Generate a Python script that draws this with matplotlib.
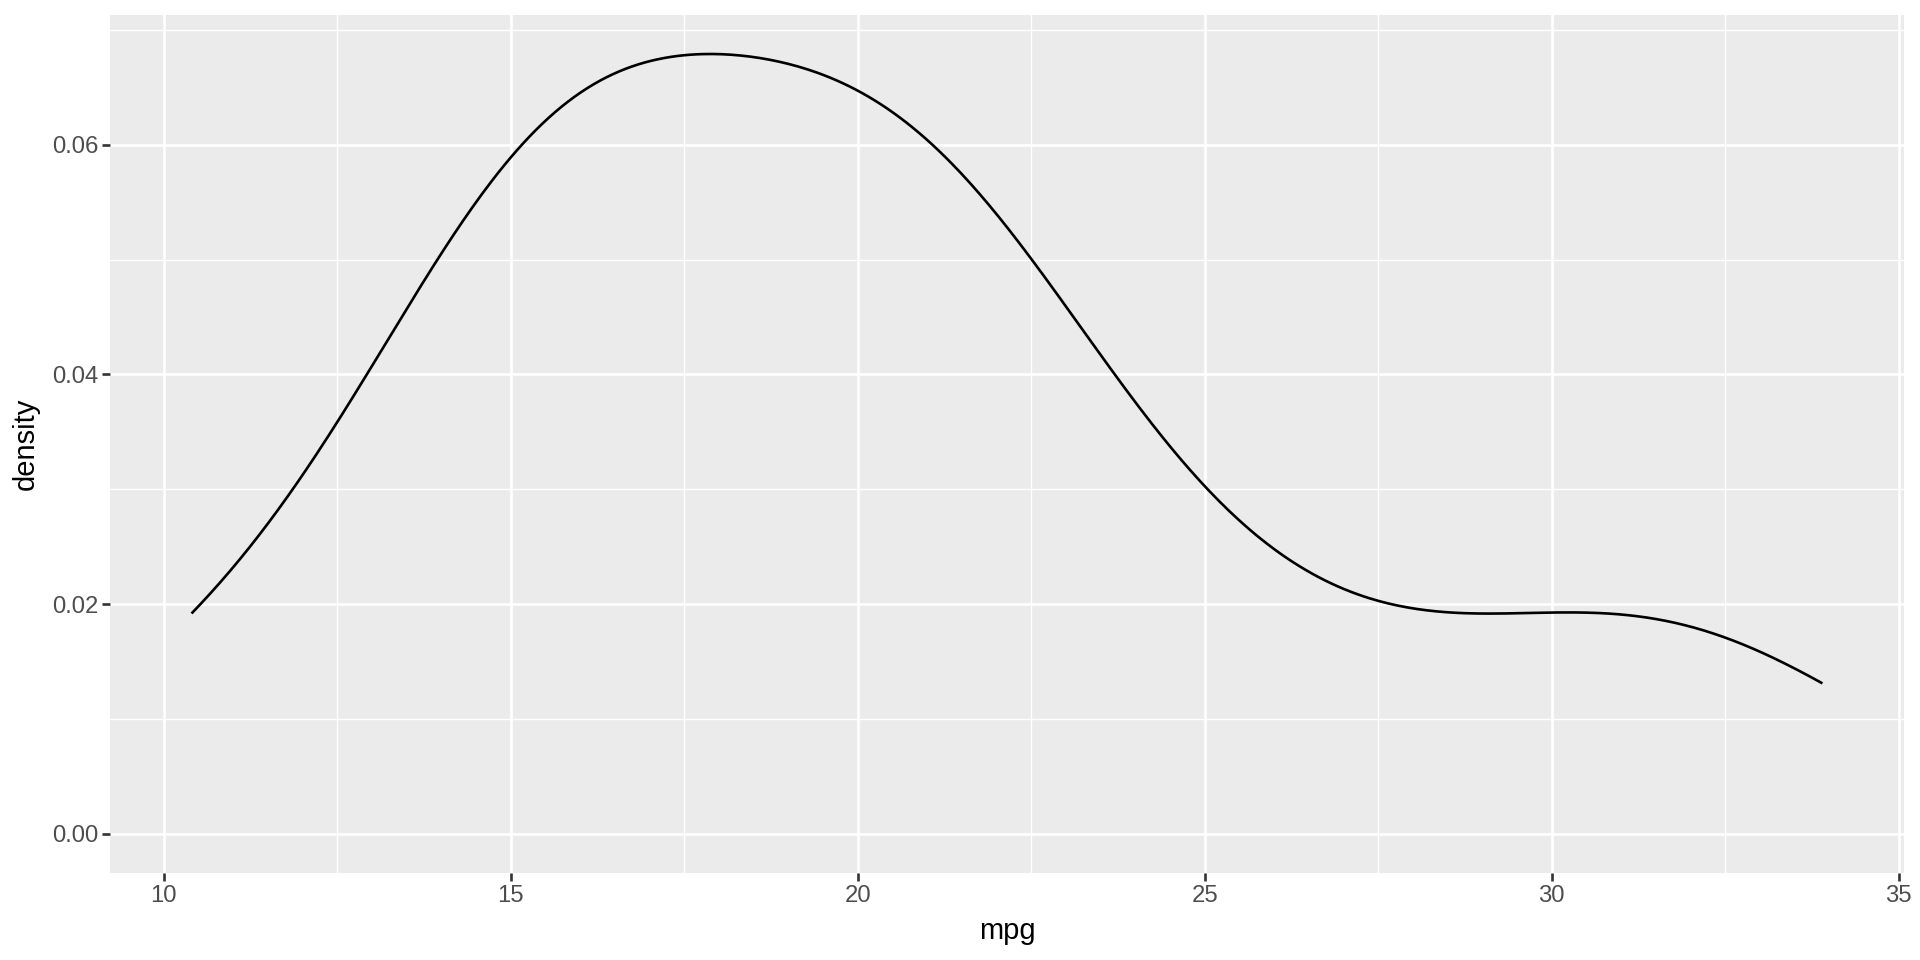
import numpy as np
import matplotlib.pyplot as plt

# mtcars mpg values (the data behind the density curve)
mpg = [21.0, 21.0, 22.8, 21.4, 18.7, 18.1, 14.3, 24.4, 22.8, 19.2, 17.8,
       16.4, 17.3, 15.2, 10.4, 10.4, 14.7, 32.4, 30.4, 33.9, 21.5, 15.5,
       15.2, 13.3, 19.2, 27.3, 26.0, 30.4, 15.8, 19.7, 15.0, 21.4]
x_ticks = [10, 15, 20, 25, 30, 35]
y_ticks = [0.00, 0.02, 0.04, 0.06]


def density(values, n=512):
    v = np.asarray(values)
    # bw.nrd0 as in R's density()
    iqr = np.percentile(v, 75) - np.percentile(v, 25)
    bw = 0.9 * min(v.std(ddof=1), iqr / 1.34) * len(v) ** -0.2
    xs = np.linspace(v.min(), v.max(), n)
    z = (xs[:, None] - v[None, :]) / bw
    ys = np.exp(-0.5 * z ** 2).sum(axis=1) / (len(v) * bw * np.sqrt(2 * np.pi))
    return xs, ys


def plot_graph(xs, ys):
    plt.rcParams['font.family'] = ['Liberation Sans', 'DejaVu Sans']
    fig = plt.figure(figsize=(19.2, 9.6), dpi=100)
    ax = fig.add_axes([110 / 1920, 1 - 873 / 960, 1794 / 1920, 858 / 960])
    ax.set_facecolor('#EBEBEB')
    for s in ax.spines.values():
        s.set_visible(False)

    ax.plot(xs, ys, color='black', lw=1.9, solid_capstyle='butt', zorder=3)

    xr = xs.max() - xs.min()
    ax.set_xlim(xs.min() - 0.05 * xr, xs.max() + 0.05 * xr)
    ax.set_ylim(-0.05 * ys.max(), ys.max() * 1.05)

    ax.set_xticks(x_ticks)
    ax.set_xticklabels([str(t) for t in x_ticks])
    ax.set_yticks(y_ticks)
    ax.set_yticklabels([f'{t:.2f}' for t in y_ticks])
    ax.set_xticks([12.5, 17.5, 22.5, 27.5, 32.5], minor=True)
    ax.set_yticks([0.01, 0.03, 0.05, 0.07], minor=True)

    ax.grid(which='major', color='white', lw=1.9, zorder=1)
    ax.grid(which='minor', color='white', lw=0.95, zorder=1)
    ax.set_axisbelow(True)

    ax.tick_params(which='major', length=5.5, width=1.9, color='#333333',
                   labelsize=17.2, labelcolor='#4D4D4D', pad=3)
    ax.tick_params(which='minor', length=0)

    ax.set_xlabel('mpg', fontsize=21, color='black', labelpad=7)
    ax.set_ylabel('density', fontsize=21, color='black', labelpad=9)

    fig.savefig('out.png', dpi=100)


def main():
    xs, ys = density(mpg)
    plot_graph(xs, ys)


if __name__ == '__main__':
    main()
